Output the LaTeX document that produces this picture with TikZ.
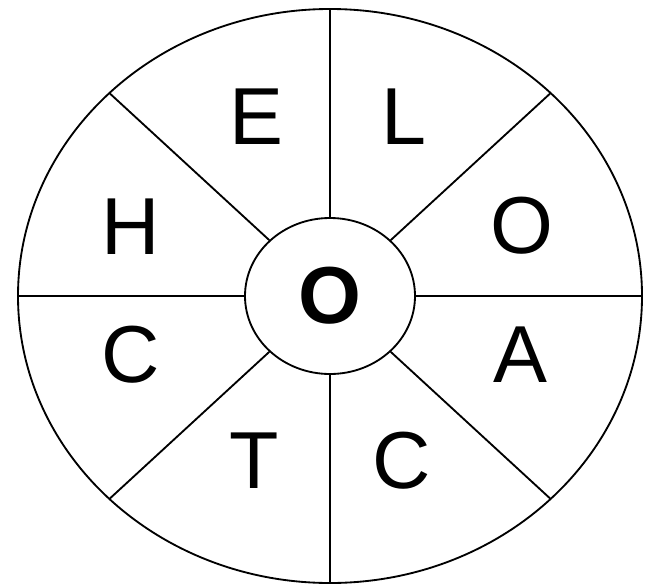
\documentclass[tikz,border=0pt]{standalone}
\usepackage{fontspec}
\setmainfont{Liberation Sans}
\usetikzlibrary{shapes.geometric}

\begin{document}
\begin{tikzpicture}[x=0.04cm, y=-0.04cm]

% -------------------------------------------------------
% Layout parameters (pixel grid, y pointing down)
% -------------------------------------------------------
\def\cx{330}     % centre of the wheel
\def\cy{296}
\def\Rx{312}     % outer rim radii
\def\Ry{287}
\def\rx{85}      % hub radii
\def\ry{78}

\tikzstyle{rim} = [line width=2.1pt, black];
\tikzstyle{letter} = [font=\fontsize{92}{92}\selectfont, inner sep=0pt];
\tikzstyle{hub} = [rim, draw, ellipse, inner sep=0pt,
  minimum width={2*\rx*0.04cm}, minimum height={2*\ry*0.04cm}];

\useasboundingbox (0,0) rectangle (649,585);

%%%%%% RIM AND HUB
\draw[rim] (\cx,\cy) ellipse [x radius=\Rx, y radius=\Ry];
\node[hub, letter] (hub) at (\cx,\cy) {\textbf{O}};

%%%%%% SPOKES
\foreach \a in {0,45,...,315}{
  \path (\cx,\cy) ++(-\a:{\Rx} and {\Ry}) coordinate (rim\a);
  \draw[rim] (hub) -- (rim\a);
}

%%%%%% LETTERS
\node[letter] (segE)  at (256,117) {E};
\node[letter] (segL)  at (404,117) {L};
\node[letter] (segH)  at (131,227) {H};
\node[letter] (segO)  at (522,226) {O};
\node[letter] (segCa) at (131,355) {C};
\node[letter] (segA)  at (520,355) {A};
\node[letter] (segT)  at (254,461) {T};
\node[letter] (segCb) at (402,461) {C};

\end{tikzpicture}
\end{document}
